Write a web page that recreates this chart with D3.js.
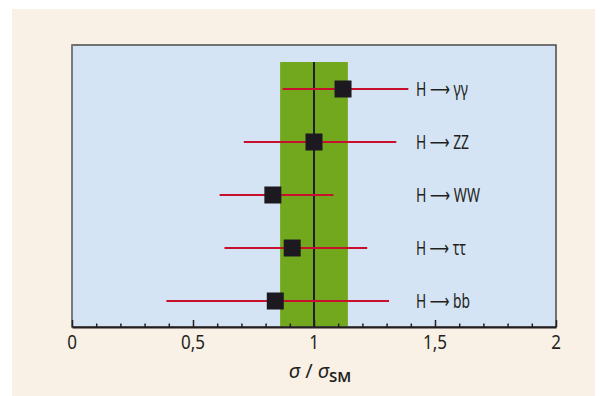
<!DOCTYPE html>
<html>
<head>
<meta charset="utf-8">
<script src="https://cdn.jsdelivr.net/npm/d3@7"></script>
<style>
  body { margin: 0; background: #fff; }
  text { font-family: "Noto Sans", "DejaVu Sans", sans-serif; fill: #231f20; }
</style>
</head>
<body>
<script>
// Kanäle und gemessene Signalstärken
const channels = ["H \u27f6 \u03b3\u03b3", "H \u27f6 ZZ", "H \u27f6 WW", "H \u27f6 \u03c4\u03c4", "H \u27f6 bb"];
const labelWidths = [52, 53, 64, 50, 54];
const mu     = [1.12, 1.00, 0.83, 0.91, 0.84];
const muLow  = [0.87, 0.71, 0.61, 0.63, 0.39];
const muHigh = [1.39, 1.34, 1.08, 1.22, 1.31];
const band = [0.86, 1.14];
const xTicks = [0, 0.5, 1, 1.5, 2];
const xTickLabels = ["0", "0,5", "1", "1,5", "2"];

const W = 600, H = 396;
const margin = { top: 45, right: 44, bottom: 69, left: 72 };
const width = W - margin.left - margin.right,
      height = H - margin.top - margin.bottom;

const svg = d3.select("body").append("svg")
    .attr("width", W).attr("height", H);

// Hintergrund
svg.append("rect").attr("x", 12).attr("y", 9).attr("width", 583).attr("height", 387)
    .attr("fill", "#f9f0e6");

const g = svg.append("g").attr("transform", `translate(${margin.left},${margin.top})`);

const x = d3.scaleLinear().domain([0, 2]).range([0, width]);
const y = d3.scalePoint().domain(channels).range([44, 256]);

g.append("rect").attr("width", width).attr("height", height).attr("fill", "#d4e4f4");

// Band um SM-Erwartung
g.append("rect")
    .attr("x", x(band[0])).attr("y", 17)
    .attr("width", x(band[1]) - x(band[0]))
    .attr("height", height - 17)
    .attr("fill", "#72a81e");

g.append("line")
    .attr("x1", x(1)).attr("x2", x(1)).attr("y1", 17).attr("y2", height)
    .attr("stroke", "#231f20").attr("stroke-width", 2);

// Fehlerbalken
g.selectAll(".err").data(channels).enter().append("line")
    .attr("x1", (d, i) => x(muLow[i])).attr("x2", (d, i) => x(muHigh[i]))
    .attr("y1", d => y(d)).attr("y2", d => y(d))
    .attr("stroke", "#c8102e").attr("stroke-width", 2);

const s = 17;
g.selectAll(".pt").data(channels).enter().append("rect")
    .attr("x", (d, i) => x(mu[i]) - s / 2).attr("y", d => y(d) - s / 2)
    .attr("width", s).attr("height", s)
    .attr("fill", "#1c1a20");

g.selectAll(".lab").data(channels).enter().append("text")
    .attr("x", 344).attr("y", d => y(d) + 7)
    .attr("font-size", 20)
    .attr("textLength", (d, i) => labelWidths[i])
    .attr("lengthAdjust", "spacingAndGlyphs")
    .text(d => d);

// Rahmen
g.append("rect").attr("width", width).attr("height", height)
    .attr("fill", "none").attr("stroke", "#4a4a4a").attr("stroke-width", 1.5);
g.append("line").attr("x1", 0).attr("x2", 0).attr("y1", 0).attr("y2", height)
    .attr("stroke", "#7a7a7a").attr("stroke-width", 2);

// Achse mit Ticks nach innen
const ax = g.append("g").attr("transform", `translate(0,${height})`);
ax.call(d3.axisBottom(x).tickValues(d3.range(0, 2.01, 0.1)).tickSize(0).tickFormat(""));
ax.select(".domain").attr("stroke", "#231f20").attr("stroke-width", 2);
ax.selectAll(".tick line")
    .attr("y2", d => Math.abs(d * 2 - Math.round(d * 2)) < 1e-6 ? -7 : -3.5)
    .attr("stroke", "#231f20").attr("stroke-width", 1.5);

const ax2 = g.append("g").attr("transform", `translate(0,${height})`);
ax2.call(d3.axisBottom(x).tickValues(xTicks).tickSize(0).tickPadding(8)
    .tickFormat((d, i) => xTickLabels[i]));
ax2.select(".domain").remove();
ax2.selectAll("text").attr("font-size", 20).attr("font-family", null).attr("fill", "#231f20");
ax2.selectAll(".tick").attr("transform", d => `translate(${x(d)},0) scale(0.85,1)`);

// Achsentitel
const t = svg.append("text").attr("x", 320).attr("y", 378)
    .attr("text-anchor", "middle").attr("font-size", 20);
t.append("tspan").attr("font-style", "italic").text("\u03c3");
t.append("tspan").text(" / ");
t.append("tspan").attr("font-style", "italic").text("\u03c3");
t.append("tspan").attr("font-size", 15).attr("font-weight", 600).attr("dy", 4).text("SM");
</script>
</body>
</html>
